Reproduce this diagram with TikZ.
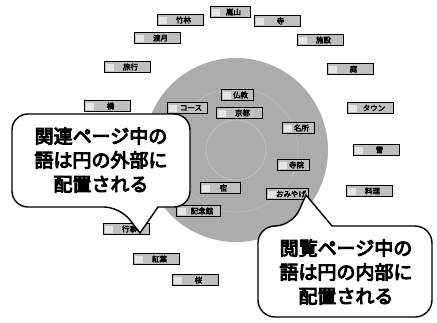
\documentclass[tikz,border=0pt]{standalone}
\usepackage{fontspec}
\newfontfamily\cjkb{Noto Sans CJK JP}[FakeBold=5]
\newfontfamily\cjkl{Noto Sans CJK JP}[FakeBold=3]
\begin{document}
\begin{tikzpicture}[x=1pt,y=-1pt,
  lbl/.style={draw=black, line width=0.9pt, fill=gray!50, minimum height=11pt, minimum width=#1, inner sep=0pt,
    font=\cjkl\fontsize{7.5}{7.5}\selectfont,
    path picture={\fill[white!80!gray] ([xshift=1.5pt,yshift=-2pt]path picture bounding box.north west) rectangle ++(8pt,-7pt);}},
  lbl/.default=46pt,
  callout/.style={draw=black, line width=1.4pt, fill=white},
  calltext/.style={font=\cjkb\fontsize{19}{24}\selectfont, align=center, inner sep=0pt}]
\useasboundingbox (0,0) rectangle (437,322);
% big circle
\fill[gray!65] (236,150) coordinate (cc) circle[radius=92pt];
\draw[gray!45, line width=0.6pt] (cc) circle[radius=30pt];
\draw[gray!50, line width=0.5pt] (cc) circle[radius=62pt];
% inner labels
\node[lbl=32pt] (ia) at (237,95) {\hspace*{7pt}仏教};
\node[lbl=40pt] (ib) at (187,108) {\hspace*{8pt}コース};
\node[lbl=46pt] (ic) at (239,113) {\hspace*{7pt}京都};
\node[lbl=32pt] (id) at (298,128) {\hspace*{7pt}名所};
\node[lbl=32pt] (ie) at (293,165) {\hspace*{7pt}寺院};
\node[lbl=40pt] (if) at (220,188) {\hspace*{7pt}宿};
\node[lbl=42pt] (ig) at (287,194) {\hspace*{8pt}おみやげ};
\node[lbl=44pt] (ih) at (198,211) {\hspace*{8pt}記念館};
% outer labels
\node[lbl=40pt] (o1) at (230,12) {\hspace*{7pt}嵐山};
\node[lbl] (o2) at (180,20) {\hspace*{7pt}竹林};
\node[lbl] (o3) at (277,21) {\hspace*{7pt}寺};
\node[lbl] (o4) at (157,38) {\hspace*{7pt}渡月};
\node[lbl] (o5) at (320,40) {\hspace*{7pt}施設};
\node[lbl] (o6) at (127,67) {\hspace*{7pt}旅行};
\node[lbl] (o7) at (350,69) {\hspace*{7pt}庭};
\node[lbl] (o8) at (107,106) {\hspace*{7pt}橋};
\node[lbl] (o9) at (370,108) {\hspace*{8pt}タウン};
\node[lbl] (o10) at (376,150) {\hspace*{7pt}雪};
\node[lbl] (o11) at (369,191) {\hspace*{7pt}料理};
\node[lbl] (o12) at (126,229) {\hspace*{7pt}行事};
\node[lbl] (o13) at (156,259) {\hspace*{7pt}紅葉};
\node[lbl] (o14) at (195,280) {\hspace*{7pt}桜};
% left callout
\draw[callout] (120,207) -- (140,233) coordinate (tipL) -- (158,207)
  [rounded corners=16pt] -- (190,207) -- (190,114) -- (12,114) -- (12,207) -- cycle;
\node[calltext] (tL) at (101,160) {関連ページ中の\\語は円の外部に\\配置される};
% right callout
\draw[callout] (292,226) -- (306,195) coordinate (tipR) -- (332,226)
  [rounded corners=17pt] -- (432,226) -- (432,317) -- (258,317) -- (258,226) -- cycle;
\node[calltext] (tR) at (346,272) {閲覧ページ中の\\語は円の内部に\\配置される};
\end{tikzpicture}
\end{document}
